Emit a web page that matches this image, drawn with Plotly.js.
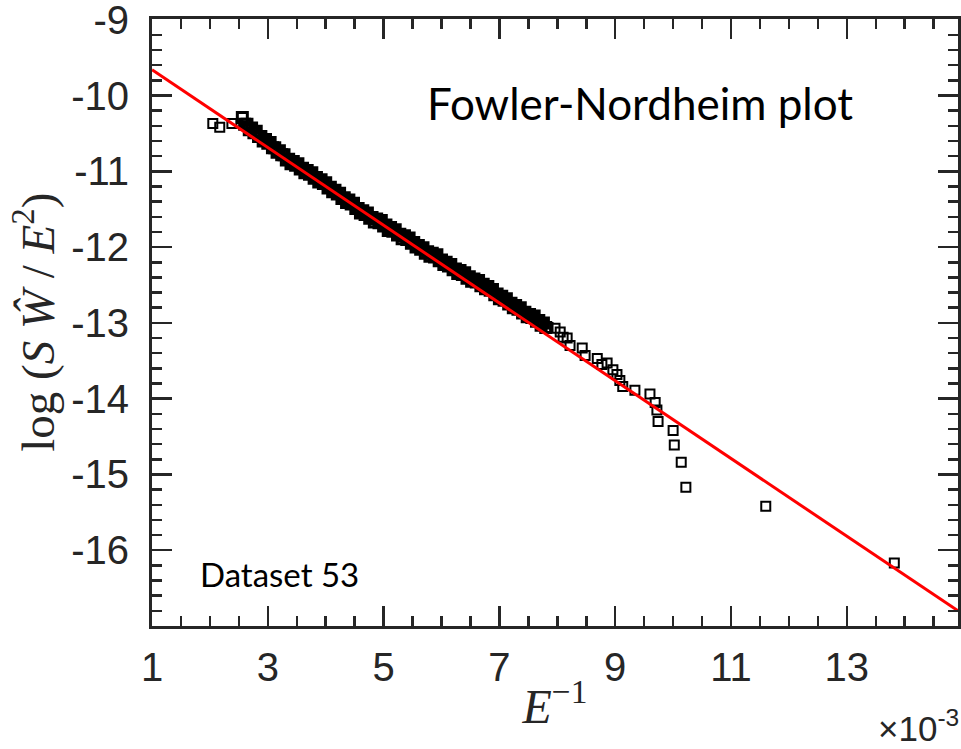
<!DOCTYPE html>
<html>
<head>
<meta charset="utf-8">
<script src="https://cdn.plot.ly/plotly-3.0.1.min.js"></script>
<style>html,body{margin:0;padding:0;background:#fff;}#chart{width:961px;height:749px;}</style>
</head>
<body>
<div id="chart"></div>
<script>
// x values are E^-1 in units of 1e-3
const earlyX = [2.05, 2.17, 2.38];
const earlyY = [-10.37, -10.42, -10.37];

const bandX = [2.56,2.60,2.64,2.68,2.72,2.76,2.80,2.84,2.88,2.92,2.96,3.00,3.04,3.08,3.12,3.16,3.20,3.24,3.28,3.32,3.36,3.40,3.44,3.48,3.52,3.56,3.60,3.64,3.68,3.72,3.76,3.80,3.84,3.88,3.92,3.96,4.00,4.04,4.08,4.12,4.16,4.20,4.24,4.28,4.32,4.36,4.40,4.44,4.48,4.52,4.56,4.60,4.64,4.68,4.72,4.76,4.80,4.84,4.88,4.92,4.96,5.00,5.04,5.08,5.12,5.16,5.20,5.24,5.28,5.32,5.36,5.40,5.44,5.48,5.52,5.56,5.60,5.64,5.68,5.72,5.76,5.80,5.84,5.88,5.92,5.96,6.00,6.04,6.08,6.12,6.16,6.20,6.24,6.28,6.32,6.36,6.40,6.44,6.48,6.52,6.56,6.60,6.64,6.68,6.72,6.76,6.80,6.84,6.88,6.92,6.96,7.00,7.04,7.08,7.12,7.16,7.20,7.24,7.28,7.32,7.36,7.40,7.44,7.48,7.52,7.56,7.60,7.64,7.68,7.72,7.76,7.80];
const bandY = [-10.29,-10.38,-10.38,-10.45,-10.43,-10.49,-10.47,-10.54,-10.54,-10.60,-10.58,-10.63,-10.62,-10.69,-10.69,-10.75,-10.73,-10.78,-10.78,-10.85,-10.84,-10.90,-10.87,-10.92,-10.90,-10.97,-10.96,-11.02,-10.99,-11.04,-11.02,-11.09,-11.08,-11.14,-11.11,-11.16,-11.15,-11.22,-11.21,-11.27,-11.25,-11.30,-11.29,-11.36,-11.35,-11.41,-11.38,-11.43,-11.42,-11.49,-11.49,-11.55,-11.52,-11.57,-11.55,-11.62,-11.61,-11.67,-11.63,-11.68,-11.65,-11.72,-11.71,-11.78,-11.74,-11.79,-11.77,-11.84,-11.83,-11.89,-11.85,-11.90,-11.88,-11.95,-11.94,-12.00,-11.98,-12.03,-12.01,-12.08,-12.06,-12.12,-12.08,-12.13,-12.10,-12.18,-12.17,-12.23,-12.20,-12.25,-12.23,-12.30,-12.29,-12.35,-12.31,-12.36,-12.34,-12.41,-12.39,-12.45,-12.42,-12.46,-12.44,-12.51,-12.49,-12.55,-12.52,-12.57,-12.56,-12.63,-12.62,-12.68,-12.65,-12.70,-12.68,-12.75,-12.74,-12.80,-12.77,-12.82,-12.80,-12.87,-12.86,-12.92,-12.89,-12.93,-12.91,-12.98,-12.97,-13.03,-13.00,-13.06];

const tailX = [7.84,7.96,8.05,8.10,8.17,8.22,8.43,8.48,8.69,8.77,8.86,8.96,9.03,9.08,9.13,9.34,9.60,9.69,9.72,9.74,10.00,10.02,10.14,10.22,11.60,13.82];
const tailY = [-13.06,-13.07,-13.12,-13.19,-13.20,-13.30,-13.33,-13.43,-13.47,-13.55,-13.53,-13.62,-13.68,-13.76,-13.84,-13.89,-13.94,-14.05,-14.15,-14.30,-14.42,-14.61,-14.84,-15.17,-15.42,-16.17];

const fitX = [1.0, 14.92];
const fitY = [-9.66, -16.80];

const xTickVals = [1, 3, 5, 7, 9, 11, 13];
const xTickText = ['1', '3', '5', '7', '9', '11', '13'];
const yTickVals = [-16, -15, -14, -13, -12, -11, -10, -9];
const yTickText = ['-16', '-15', '-14', '-13', '-12', '-11', '-10', '-9'];

const axisColor = '#262626';
const tickFont = {family: 'Liberation Sans, Arial, sans-serif', size: 40, color: '#262626'};

const traces = [
  {
    x: bandX, y: bandY, type: 'scatter', mode: 'markers',
    marker: {symbol: 'square-open', size: 10, color: '#000', line: {width: 3, color: '#000'}},
    showlegend: false, hoverinfo: 'skip'
  },
  {
    x: earlyX.concat(tailX), y: earlyY.concat(tailY), type: 'scatter', mode: 'markers',
    marker: {symbol: 'square-open', size: 9, color: '#000', line: {width: 2, color: '#000'}},
    showlegend: false, hoverinfo: 'skip'
  },
  {
    x: fitX, y: fitY, type: 'scatter', mode: 'lines',
    line: {color: '#ff0000', width: 3},
    showlegend: false, hoverinfo: 'skip'
  }
];

const layout = {
  width: 961, height: 749,
  margin: {l: 152, r: 3, t: 19, b: 123},
  paper_bgcolor: '#fff', plot_bgcolor: '#fff',
  showlegend: false,
  xaxis: {
    range: [1, 14.92], showgrid: false, zeroline: false,
    showline: true, linecolor: axisColor, linewidth: 3, mirror: 'ticks',
    ticks: 'inside', ticklen: 20, tickwidth: 2.5, tickcolor: axisColor,
    tickvals: xTickVals, ticktext: xTickText, tickfont: tickFont, ticklabelstandoff: 4,
    ticklabeloverflow: 'allow',
    minor: {dtick: 0.5, tick0: 1, ticks: 'inside', ticklen: 10, tickwidth: 2.5, tickcolor: axisColor, showgrid: false},
    title: {text: '<i>E</i><sup>\u22121</sup>', font: {family: 'Liberation Serif, DejaVu Serif, serif', size: 48, color: '#262626'}, standoff: 2}
  },
  yaxis: {
    range: [-17, -8.99], showgrid: false, zeroline: false,
    showline: true, linecolor: axisColor, linewidth: 3, mirror: 'ticks',
    ticks: 'inside', ticklen: 20, tickwidth: 2.5, tickcolor: axisColor,
    tickvals: yTickVals, ticktext: yTickText, tickfont: tickFont, ticklabelstandoff: 12,
    ticklabeloverflow: 'allow',
    minor: {dtick: 0.2, tick0: -17, ticks: 'inside', ticklen: 10, tickwidth: 2.5, tickcolor: axisColor, showgrid: false}
  },
  annotations: [
    {text: 'log (<i>S</i> <i>\u0174</i> / <i>E</i><sup>2</sup>)', xref: 'paper', yref: 'paper', x: -0.146, y: 0.5, xanchor: 'center', yanchor: 'middle', textangle: -90, showarrow: false, font: {family: 'Liberation Serif, DejaVu Serif, serif', size: 47, color: '#262626'}},
    {text: 'Fowler-Nordheim plot', xref: 'paper', yref: 'paper', x: 0.339, y: 0.862, xanchor: 'left', yanchor: 'middle', showarrow: false, font: {family: 'Lato, Open Sans, sans-serif', size: 44, color: '#000'}},
    {text: 'Dataset 53', xref: 'paper', yref: 'paper', x: 0.057, y: 0.086, xanchor: 'left', yanchor: 'middle', showarrow: false, font: {family: 'Lato, Open Sans, sans-serif', size: 33, color: '#000'}},
    {text: '\u00d710<sup>-3</sup>', xref: 'paper', yref: 'paper', x: 1.004, y: -0.204, xanchor: 'right', yanchor: 'bottom', showarrow: false, font: {family: 'Liberation Sans, Arial, sans-serif', size: 35, color: '#262626'}}
  ]
};

Plotly.newPlot('chart', traces, layout, {staticPlot: true, displayModeBar: false});
</script>
</body>
</html>
